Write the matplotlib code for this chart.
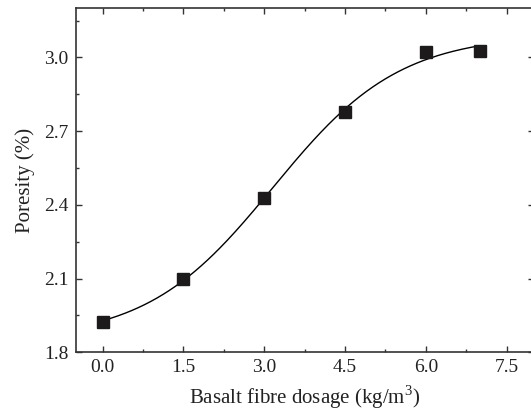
import numpy as np
import matplotlib
matplotlib.use("Agg")
import matplotlib.pyplot as plt
from matplotlib.ticker import MultipleLocator

dosage = [0.0, 1.5, 3.0, 4.5, 6.0, 7.0]
porosity = [1.925, 2.098, 2.428, 2.779, 3.022, 3.027]
x_ticks = [0.0, 1.5, 3.0, 4.5, 6.0, 7.5]
y_ticks = [1.8, 2.1, 2.4, 2.7, 3.0]

plt.rcParams['font.family'] = ['Liberation Serif', 'DejaVu Serif']
plt.rcParams['mathtext.fontset'] = 'custom'
plt.rcParams['mathtext.rm'] = 'Liberation Serif'


def boltzmann(p, x):
    a1, a2, x0, dx = p
    return a2 + (a1 - a2) / (1 + np.exp((x - x0) / dx))


def fit_boltzmann(x, y):
    x = np.asarray(x, float)
    y = np.asarray(y, float)
    p = np.array([y.min() - 0.1, y.max() + 0.02, x.mean(), 1.0])
    lam = 1e-2
    for _ in range(500):
        r = y - boltzmann(p, x)
        J = np.empty((len(x), 4))
        for k in range(4):
            dp = np.zeros(4)
            dp[k] = 1e-6
            J[:, k] = (boltzmann(p + dp, x) - boltzmann(p - dp, x)) / 2e-6
        A = J.T @ J
        g = J.T @ r
        step = np.linalg.solve(A + lam * np.diag(np.diag(A)), g)
        pn = p + step
        if np.sum((y - boltzmann(pn, x)) ** 2) < np.sum(r ** 2):
            p = pn
            lam *= 0.5
        else:
            lam *= 3
    return p


fig = plt.figure(figsize=(5.31, 4.15), dpi=100)
ax = fig.add_axes([75.7/531, 1-352.3/415, (533.6-75.7)/531, (352.3-8.3)/415])

params = fit_boltzmann(dosage, porosity)
xs = np.linspace(min(dosage), max(dosage), 300)
ax.plot(xs, boltzmann(params, xs), color='black', lw=1.0, zorder=2)
ax.plot(dosage, porosity, 's', color='#1c1a1b', markersize=9, zorder=3)

ax.set_xlim(-0.5, 8.0)
ax.set_ylim(1.8, 3.2)
ax.set_xticks(x_ticks)
ax.set_yticks(y_ticks)
ax.set_xticklabels([f"{v:.1f}" for v in x_ticks])
ax.set_yticklabels([f"{v:.1f}" for v in y_ticks])
ax.xaxis.set_minor_locator(MultipleLocator(0.75))
ax.yaxis.set_minor_locator(MultipleLocator(0.15))
ax.tick_params(which='both', direction='in', top=True, right=True, width=1.0, color='#333333')
ax.tick_params(which='major', length=4.5, labelsize=14, pad=5, labelcolor='#222222')
ax.tick_params(which='minor', length=2.3)
for s in ax.spines.values():
    s.set_linewidth(1.2)
    s.set_color('#333333')

ax.set_xlabel('Basalt fibre dosage (kg/m$^3$)', fontsize=15, color='#222222', labelpad=5)
ax.set_ylabel('Poresity (%)', fontsize=15, color='#222222', labelpad=7)

fig.savefig('out.png', dpi=100)
